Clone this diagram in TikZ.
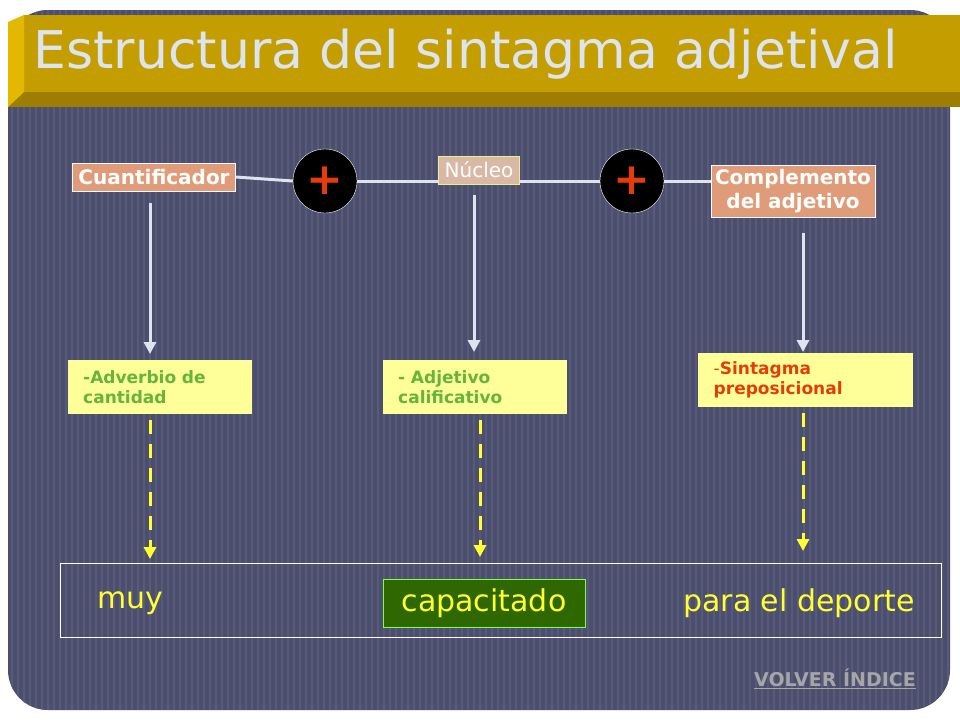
\documentclass[tikz,border=0pt]{standalone}
\usepackage{fontspec}
\setmainfont{DejaVu Sans}
\usetikzlibrary{arrows.meta}
\definecolor{panel}{HTML}{4B4E6D}
\definecolor{stripe}{HTML}{575A78}
\definecolor{gold}{HTML}{C49E00}
\definecolor{golddark}{HTML}{9E7E00}
\definecolor{goldlight}{HTML}{E2B800}
\definecolor{salmon}{HTML}{E09C78}
\definecolor{nucleo}{HTML}{D9B9A6}
\definecolor{paleyellow}{HTML}{FFFF99}
\definecolor{linecol}{HTML}{DCE4F0}
\definecolor{greentext}{HTML}{66B43C}
\definecolor{redtext}{HTML}{E63C0A}
\definecolor{darkgreen}{HTML}{2F6800}
\definecolor{wordyellow}{HTML}{FFFF33}
\tikzset{
  catbox/.style={draw=white, fill=salmon, text=white, font=\bfseries\fontsize{20}{24}\selectfont, inner sep=6pt, align=center},
  plus/.style={circle, draw=white, fill=black, minimum size=64pt, text=redtext, font=\bfseries\fontsize{44}{44}\selectfont},
  typebox/.style={fill=paleyellow, font=\bfseries\fontsize{17}{20}\selectfont, align=left, anchor=north west, inner sep=0pt},
  downarrow/.style={draw=linecol, line width=3pt, -{Triangle[length=12pt,width=12pt]}},
  dasharrow/.style={draw=wordyellow, line width=3pt, dash pattern=on 14pt off 10pt, -{Triangle[length=12pt,width=12pt]}},
  word/.style={text=wordyellow, font=\fontsize{30}{34}\selectfont}
}
\begin{document}
\begin{tikzpicture}[x=1pt,y=-1pt]
  \useasboundingbox (0,0) rectangle (960,720);
  \fill[white] (0,0) rectangle (960,720);
  % panel
  \fill[panel, rounded corners=40pt] (8,10) rectangle (950,710);
  \begin{scope}
    \clip[rounded corners=40pt] (8,10) rectangle (950,710);
    \foreach \x in {12,18,...,950}
      \draw[stripe, line width=1.5pt] (\x,10) -- (\x,710);
  \end{scope}
  % title band
  \fill[golddark] (8,90) rectangle (960,107);
  \fill[gold] (24,15) rectangle (960,92);
  \fill[goldlight] (8,22) -- (24,15) -- (24,92) -- (8,107) -- cycle;
  \node[anchor=west, text=linecol, font=\fontsize{52}{56}\selectfont] (title) at (30,54) {Estructura del sintagma adjetival};
  % structure
  \node[catbox] (cuant) at (154,177) {Cuantificador};
  \node[draw=linecol!60!yellow, fill=nucleo, text=white, font=\fontsize{20}{24}\selectfont, inner sep=6pt] (nucleo) at (479,170) {Núcleo};
  \node[catbox, inner sep=4pt] (compl) at (793,191) {Complemento\\del adjetivo};
  \node[plus] (plusA) at (325,181) {+};
  \node[plus] (plusB) at (632,181) {+};
  \draw[linecol, line width=3pt] (cuant.east) -- (plusA.west);
  \draw[linecol, line width=3pt] (plusA.east) -- (plusA.east -| nucleo.west);
  \draw[linecol, line width=3pt] (plusB.west -| nucleo.east) -- (plusB.west);
  \draw[linecol, line width=3pt] (plusB.east) -- (plusB.east -| compl.west);
  % types
  \node[typebox, text=greentext, minimum width=184pt, minimum height=54pt, text width=170pt] (adv) at (68,360) {\hspace*{8pt}-Adverbio de\\\hspace*{8pt}cantidad};
  \node[typebox, text=greentext, minimum width=184pt, minimum height=54pt, text width=170pt] (adj) at (383,360) {\hspace*{8pt}- Adjetivo\\\hspace*{8pt}calificativo};
  \node[typebox, text=redtext, minimum width=215pt, minimum height=54pt, text width=200pt] (prep) at (698,353) {\hspace*{8pt}{\mdseries -}Sintagma\\\hspace*{8pt}preposicional};
  \coordinate (c1) at (150,203);
  \coordinate (c2) at (474,195);
  \coordinate (c3) at (803,233);
  \draw[downarrow] (c1) -- (150,354);
  \draw[downarrow] (c2) -- (474,352);
  \draw[downarrow] (c3) -- (803,352);
  % example
  \node[draw=white, line width=0.8pt, minimum width=881pt, minimum height=74pt, anchor=north west] (frase) at (60,563) {};
  \node[word] (muy) at (130,603) {muy};
  \node[word, fill=darkgreen, draw=paleyellow!50!green, minimum width=202pt, minimum height=48pt] (capac) at (484,603) {capacitado};
  \node[word] (para) at (799,603) {para el deporte};
  \draw[dasharrow] (150,420) -- (150,559);
  \draw[dasharrow] (480,420) -- (480,557);
  \draw[dasharrow] (803,413) -- (803,551);
  \node[text=gray!70, font=\bfseries\fontsize{19}{22}\selectfont] (volver) at (835,679) {\underline{VOLVER ÍNDICE}};
\end{tikzpicture}
\end{document}
